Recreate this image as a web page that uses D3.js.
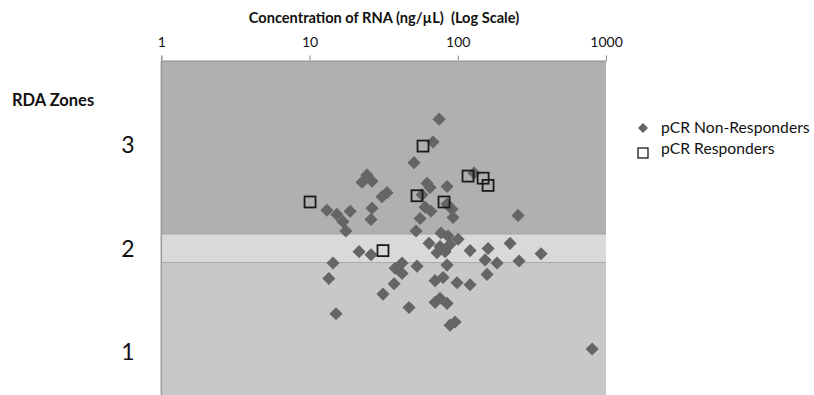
<!DOCTYPE html>
<html><head><meta charset="utf-8">
<script src="https://cdn.jsdelivr.net/npm/d3@7"></script>
<style>body{margin:0;background:#fff}svg{display:block;font-family:Lato,"Open Sans",sans-serif}</style>
</head><body><svg id="c" width="814" height="395"></svg>
<script>
// ---- data ----
const xTicks = [1, 10, 100, 1000];
const zoneLabels = [1, 2, 3];
const zoneBreaks = [1.865, 2.14];   // lower / middle / upper RDA zones
const nonRespX = [74.8,68.1,50.7,128.8,22.6,24.4,26.4,62.1,65.0,84.7,30.8,33.3,57.4,84.7,60.2,66.0,91.5,92.9,55.7,52.3,
  13.1,15.3,18.8,16.8,17.6,26.4,26.0,255,64.0,77.1,86.0,100.5,75.9,88.7,72.4,82.1,121.1,160.1,225.4,152.9,
  184.1,259.2,364.8,157.6,21.6,26.0,14.4,13.5,15.1,42.1,37.8,42.1,37.2,31.3,53.1,84.7,79.6,70.3,98.9,121.1,
  46.9,70.3,75.9,84.7,88.7,95.9,806];
const nonRespY = [3.25,3.03,2.83,2.73,2.64,2.71,2.65,2.63,2.59,2.60,2.50,2.54,2.52,2.43,2.40,2.36,2.38,2.30,2.29,2.17,
  2.37,2.33,2.36,2.26,2.17,2.39,2.28,2.32,2.05,2.15,2.12,2.09,2.02,2.04,1.96,1.97,1.98,2.00,2.05,1.89,
  1.86,1.88,1.95,1.75,1.97,1.94,1.86,1.71,1.37,1.86,1.81,1.76,1.66,1.56,1.83,1.84,1.72,1.69,1.67,1.65,
  1.43,1.48,1.52,1.47,1.26,1.29,1.03];
const respX = [10.08,58.3,53.1,80.8,117.3,148.2,160.1,31.3];
const respY = [2.45,2.99,2.51,2.45,2.70,2.68,2.61,1.98];
const seriesNames = ["pCR Non-Responders","pCR Responders"];

// ---- layout ----
const svg = d3.select("#c");
const L = 161.3, R = 606, T = 61, B = 395;
const x = d3.scaleLog().domain([1, 1000]).range([L, R]);
const y = d3.scaleLinear().domain([0.585, 3.812]).range([B, T]);

// zone backgrounds
const bands = [
  {lo: y.domain()[0], hi: zoneBreaks[0], fill: "#c8c8c8"},
  {lo: zoneBreaks[0], hi: zoneBreaks[1], fill: "#d9d9d9"},
  {lo: zoneBreaks[1], hi: y.domain()[1], fill: "#b0b0b0"}
];
svg.selectAll("rect.band").data(bands).join("rect")
  .attr("x", L).attr("width", R - L)
  .attr("y", d => y(d.hi)).attr("height", d => y(d.lo) - y(d.hi))
  .attr("fill", d => d.fill);
svg.selectAll("line.zb").data(zoneBreaks).join("line")
  .attr("x1", L).attr("x2", R).attr("y1", d => y(d)).attr("y2", d => y(d))
  .attr("stroke", "#a9a9a9").attr("stroke-width", 1);
svg.append("line").attr("x1", L).attr("x2", L).attr("y1", T).attr("y2", B)
  .attr("stroke", "#9a9a9a").attr("stroke-width", 1.5);

// top axis
const ax = svg.append("g").attr("transform", `translate(0,${T - 0.5})`)
  .call(d3.axisTop(x).tickValues(xTicks).tickFormat(d3.format("d")).tickSize(5).tickPadding(9));
ax.select(".domain").attr("stroke", "#8c8c8c");
ax.selectAll(".tick line").attr("stroke", "#8c8c8c");
ax.selectAll(".tick text").attr("font-size", 14).attr("fill", "#111").attr("font-family", "Lato");

svg.append("text").attr("x", 384).attr("y", 23).attr("text-anchor", "middle")
  .attr("font-weight", "bold").attr("font-size", 14.6).attr("fill", "#111")
  .style("white-space", "pre")
  .text("Concentration of RNA (ng/\u00b5L)  (Log Scale)");

svg.append("text").attr("x", 12).attr("y", 106).attr("font-weight", "bold")
  .attr("font-size", 16.5).attr("fill", "#111").text("RDA Zones");
svg.selectAll("text.zl").data(zoneLabels).join("text")
  .attr("x", 128).attr("y", d => y(d)).attr("dy", "0.35em").attr("text-anchor", "middle")
  .attr("font-size", 23).attr("fill", "#111").text(d => d);

// points
const diamond = d3.symbol(d3.symbolSquare, 86)();
const nonResp = d3.range(nonRespX.length).map(i => ({x: nonRespX[i], y: nonRespY[i]}));
const resp = d3.range(respX.length).map(i => ({x: respX[i], y: respY[i]}));
svg.append("g").selectAll("path").data(nonResp).join("path")
  .attr("d", diamond)
  .attr("transform", d => `translate(${x(d.x)},${y(d.y)}) rotate(45)`)
  .attr("fill", "#656565");
svg.append("g").selectAll("rect").data(resp).join("rect")
  .attr("x", d => x(d.x) - 5.5).attr("y", d => y(d.y) - 5.5)
  .attr("width", 11).attr("height", 11)
  .attr("fill", "none").attr("stroke", "#1a1a1a").attr("stroke-width", 1.8);

// legend
const lg = svg.append("g");
lg.append("path").attr("d", d3.symbol(d3.symbolSquare, 50)())
  .attr("transform", "translate(643,128) rotate(45)").attr("fill", "#656565");
lg.append("rect").attr("x", 638).attr("y", 148).attr("width", 10).attr("height", 10)
  .attr("fill", "none").attr("stroke", "#1a1a1a").attr("stroke-width", 1.3);
lg.selectAll("text").data(seriesNames).join("text")
  .attr("x", 661).attr("y", (d, i) => 128 + i * 21).attr("dy", "0.35em")
  .attr("font-size", 15.7).attr("fill", "#111").text(d => d);
</script></body></html>
